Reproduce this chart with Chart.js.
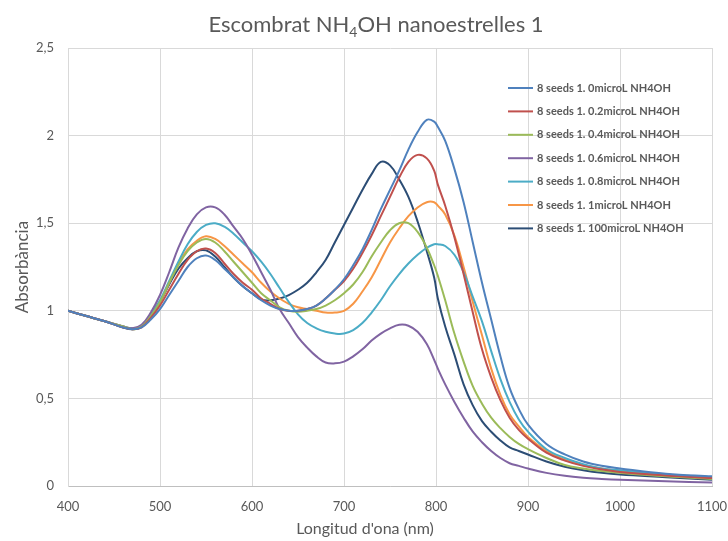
<!DOCTYPE html>
<html lang="ca">
<head>
<meta charset="UTF-8">
<title>Escombrat NH4OH nanoestrelles 1</title>
<script src="https://cdn.jsdelivr.net/npm/chart.js@4.4.0/dist/chart.umd.min.js"></script>
<style>
  html, body { margin: 0; padding: 0; background: #fff; }
</style>
</head>
<body>
<canvas id="myChart" width="728" height="541"></canvas>
<script>
// wavelengths (nm), shared by every series
const wl = [400, 420, 440, 460, 470, 480,
  490, 500, 510, 520, 530, 540, 550, 560, 570, 580, 590, 600, 610, 620, 630, 640, 650, 660, 670, 680,
  690, 700, 710, 720, 730, 740, 750, 760, 770, 780, 790,
  798, 802,
  810, 820, 830, 840, 850, 860, 870, 880, 890, 900,
  920, 940, 960, 980, 1000,
  1050, 1100];

const seriesNames = [
  '8 seeds 1. 0microL NH4OH',
  '8 seeds 1. 0.2microL NH4OH',
  '8 seeds 1. 0.4microL NH4OH',
  '8 seeds 1. 0.6microL NH4OH',
  '8 seeds 1. 0.8microL NH4OH',
  '8 seeds 1. 1microL NH4OH',
  '8 seeds 1. 100microL NH4OH'
];

const abs0 = [1.00, 0.97, 0.94, 0.905, 0.895, 0.905,
  0.95, 1.01, 1.09, 1.17, 1.25, 1.30, 1.315, 1.29, 1.24, 1.19, 1.14, 1.10, 1.06, 1.03, 1.01, 1.00, 1.00, 1.01, 1.03, 1.07,
  1.12, 1.18, 1.26, 1.35, 1.46, 1.58, 1.69, 1.80, 1.92, 2.02, 2.09,
  2.08, 2.05,
  1.97, 1.81, 1.62, 1.39, 1.16, 0.95, 0.74, 0.56, 0.44, 0.35,
  0.24, 0.18, 0.14, 0.115, 0.10,
  0.07, 0.055];

const abs02 = [1.00, 0.97, 0.94, 0.905, 0.895, 0.905,
  0.96, 1.03, 1.12, 1.21, 1.29, 1.34, 1.355, 1.33, 1.27, 1.21, 1.16, 1.12, 1.07, 1.04, 1.01, 1.00, 1.00, 1.01, 1.03, 1.07,
  1.12, 1.17, 1.24, 1.33, 1.43, 1.54, 1.65, 1.76, 1.85, 1.89, 1.87,
  1.80, 1.72,
  1.60, 1.42, 1.21, 0.99, 0.78, 0.62, 0.49, 0.39, 0.32, 0.27,
  0.19, 0.145, 0.115, 0.095, 0.08,
  0.06, 0.045];

const abs04 = [1.00, 0.97, 0.94, 0.91, 0.895, 0.91,
  0.97, 1.05, 1.16, 1.26, 1.34, 1.39, 1.41, 1.39, 1.34, 1.28, 1.22, 1.16, 1.10, 1.06, 1.02, 1.00, 0.995, 1.00, 1.01, 1.03,
  1.06, 1.10, 1.15, 1.22, 1.31, 1.39, 1.46, 1.50, 1.50, 1.45, 1.36,
  1.26, 1.20,
  1.06, 0.87, 0.71, 0.57, 0.47, 0.39, 0.33, 0.28, 0.24, 0.21,
  0.16, 0.12, 0.10, 0.085, 0.075,
  0.055, 0.04];

const abs06 = [1.00, 0.97, 0.94, 0.91, 0.90, 0.92,
  0.99, 1.09, 1.22, 1.36, 1.47, 1.55, 1.59, 1.59, 1.55, 1.48, 1.41, 1.32, 1.22, 1.12, 1.01, 0.93, 0.85, 0.79, 0.74, 0.705,
  0.70, 0.71, 0.74, 0.78, 0.83, 0.87, 0.90, 0.92, 0.915, 0.88, 0.81,
  0.72, 0.67,
  0.58, 0.48, 0.39, 0.31, 0.25, 0.20, 0.16, 0.13, 0.115, 0.10,
  0.075, 0.058, 0.047, 0.04, 0.035,
  0.027, 0.02];

const abs08 = [1.00, 0.97, 0.94, 0.91, 0.90, 0.915,
  0.98, 1.06, 1.17, 1.28, 1.38, 1.45, 1.49, 1.50, 1.48, 1.44, 1.39, 1.34, 1.28, 1.21, 1.13, 1.05, 0.98, 0.93, 0.90, 0.88,
  0.87, 0.87, 0.89, 0.93, 0.99, 1.06, 1.14, 1.21, 1.27, 1.32, 1.36,
  1.38, 1.38,
  1.37, 1.32, 1.22, 1.08, 0.94, 0.77, 0.61, 0.48, 0.38, 0.31,
  0.21, 0.16, 0.125, 0.10, 0.09,
  0.065, 0.05];

const abs1 = [1.00, 0.97, 0.94, 0.91, 0.90, 0.91,
  0.97, 1.05, 1.16, 1.27, 1.35, 1.40, 1.425, 1.41, 1.37, 1.32, 1.27, 1.22, 1.16, 1.11, 1.07, 1.04, 1.02, 1.01, 1.00, 0.99,
  0.99, 1.00, 1.04, 1.11, 1.19, 1.29, 1.39, 1.47, 1.54, 1.59, 1.62,
  1.62, 1.60,
  1.55, 1.43, 1.25, 1.05, 0.86, 0.67, 0.52, 0.41, 0.34, 0.28,
  0.20, 0.15, 0.12, 0.10, 0.085,
  0.065, 0.05];

const abs100 = [1.00, 0.97, 0.94, 0.905, 0.895, 0.91,
  0.97, 1.05, 1.15, 1.24, 1.30, 1.34, 1.345, 1.31, 1.25, 1.19, 1.14, 1.10, 1.065, 1.06, 1.07, 1.09, 1.12, 1.16, 1.22, 1.29,
  1.39, 1.49, 1.59, 1.69, 1.78, 1.85, 1.83, 1.75, 1.65, 1.51, 1.34,
  1.19, 1.07,
  0.91, 0.75, 0.58, 0.46, 0.37, 0.31, 0.26, 0.22, 0.20, 0.18,
  0.14, 0.11, 0.09, 0.075, 0.065,
  0.05, 0.035];

const allSeries = [abs0, abs02, abs04, abs06, abs08, abs1, abs100];
const colors = ['#4F81BD', '#C0504D', '#9BBB59', '#8064A2', '#4BACC6', '#F79646', '#2C4D75'];

const yTicks = [0, 0.5, 1, 1.5, 2, 2.5];

// legend drawn inside the plot, like the Excel one
const insideLegend = {
  id: 'insideLegend',
  afterDatasetsDraw(chart) {
    const ctx = chart.ctx;
    ctx.save();
    ctx.font = 'bold 11px Lato';
    ctx.textBaseline = 'middle';
    chart.data.datasets.forEach((ds, i) => {
      const y = 88 + i * 23.4;
      ctx.strokeStyle = ds.borderColor;
      ctx.lineWidth = 2;
      ctx.beginPath();
      ctx.moveTo(508, y);
      ctx.lineTo(533, y);
      ctx.stroke();
      ctx.fillStyle = '#595959';
      ctx.fillText(ds.label, 537, y);
    });
    ctx.restore();
  }
};

// title with the subscript 4, and the x axis title (Excel puts it a bit left of the plot centre)
const texts = {
  id: 'texts',
  afterDraw(chart) {
    const ctx = chart.ctx;
    const parts = [['Escombrat NH', 22, 0], ['4', 14, 5], ['OH nanoestrelles 1', 22, 0]];
    ctx.save();
    ctx.fillStyle = '#595959';
    ctx.textBaseline = 'alphabetic';
    let total = 0;
    parts.forEach(p => { ctx.font = p[1] + 'px Lato'; total += ctx.measureText(p[0]).width; });
    let x = 376 - total / 2;
    parts.forEach(p => {
      ctx.font = p[1] + 'px Lato';
      ctx.fillText(p[0], x, 32 + p[2]);
      x += ctx.measureText(p[0]).width;
    });
    ctx.font = '16px Lato';
    ctx.textAlign = 'center';
    ctx.textBaseline = 'middle';
    ctx.fillText("Longitud d'ona (nm)", 365, 529);
    ctx.restore();
  }
};

const ctx = document.getElementById('myChart').getContext('2d');
new Chart(ctx, {
  type: 'line',
  data: {
    datasets: allSeries.map((vals, i) => ({
      label: seriesNames[i],
      data: vals.map((v, k) => ({ x: wl[k], y: v })),
      borderColor: colors[i],
      backgroundColor: colors[i],
      borderWidth: 2,
      pointRadius: 0,
      fill: false,
      tension: 0.4
    }))
  },
  options: {
    responsive: false,
    animation: false,
    layout: { padding: { top: 48, right: 0, left: 0, bottom: 0 } },
    plugins: {
      legend: { display: false },
      title: { display: false },
      tooltip: { enabled: false }
    },
    scales: {
      x: {
        type: 'linear',
        min: 400,
        max: 1100,
        afterFit: (s) => { s.height = 55; s.paddingRight = 16; s.paddingLeft = 0; },
        ticks: {
          stepSize: 100,
          padding: 13,
          color: '#595959',
          font: { family: 'Lato', size: 13 },
          callback: (v) => String(v)
        },
        grid: { color: '#d9d9d9', drawTicks: false },
        border: { color: '#bfbfbf' },
        title: { display: false }
      },
      y: {
        min: 0,
        max: 2.5,
        afterFit: (s) => { s.width = 68; },
        afterBuildTicks: (s) => { s.ticks = yTicks.map(v => ({ value: v })); },
        ticks: {
          padding: 14,
          color: '#595959',
          font: { family: 'Lato', size: 13 },
          callback: (v) => String(v).replace('.', ',')
        },
        grid: { color: '#d9d9d9', drawTicks: false },
        border: { color: '#d9d9d9' },
        title: { display: true, text: 'Absorbància', color: '#595959', font: { family: 'Lato', size: 17 }, padding: { top: 12, bottom: 0 } }
      }
    }
  },
  plugins: [insideLegend, texts]
});
</script>
</body>
</html>
